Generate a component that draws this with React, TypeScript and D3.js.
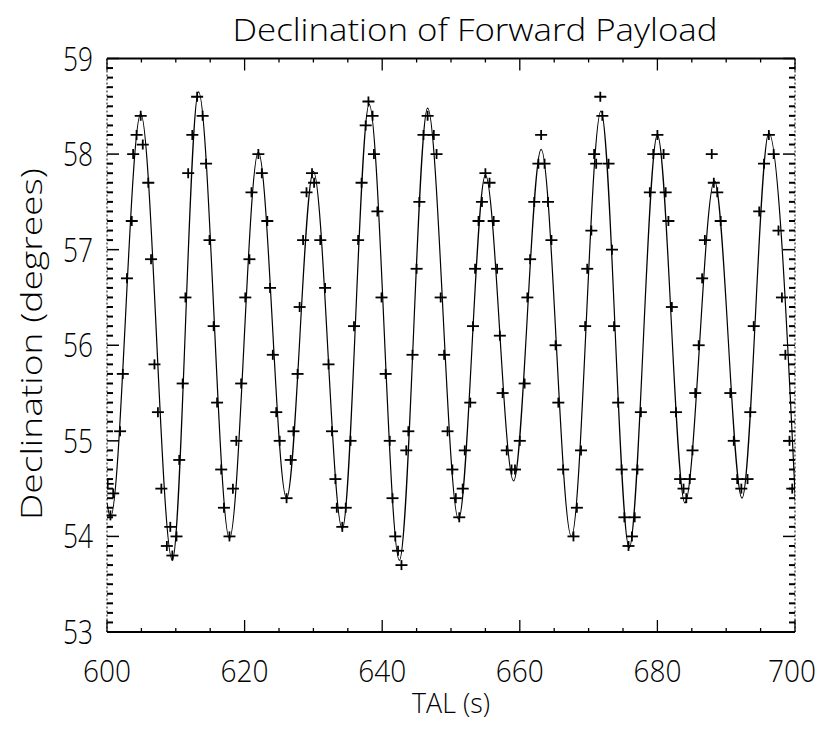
import React from "react";
import * as d3 from "d3";

// Time (s) and declination (degrees) of the fitted curve's turning points
const curveT = [600.0, 600.5, 604.9, 609.5, 613.3, 617.8, 622.0, 626.1, 630.0, 634.2, 638.1, 642.5, 646.6, 651.1, 655.0, 659.1, 663.1, 667.5, 671.8, 675.9, 680.0, 684.0, 688.3, 692.3, 696.2, 700.1];
const curveV = [54.35, 54.2, 58.42, 53.75, 58.65, 53.98, 58.02, 54.4, 57.82, 54.08, 58.52, 53.75, 58.48, 54.18, 57.78, 54.58, 58.05, 54.0, 58.45, 53.88, 58.2, 54.35, 57.72, 54.4, 58.22, 54.3];

// Measured samples (plus markers)
const sampleT = [600.1, 600.5, 600.9, 601.9, 602.3, 602.9, 603.6, 603.8, 604.3, 604.9, 605.2, 606.0, 606.4, 606.9, 607.4, 607.9, 608.7, 609.2, 609.5, 610.1, 610.5, 611.0, 611.4, 611.8, 612.4, 613.1, 613.9, 614.4, 614.9, 615.5, 616.0, 616.6, 617.0, 617.8, 618.3, 618.8, 619.5, 620.1, 620.7, 621.0, 622.0, 622.5, 623.3, 623.7, 624.1, 624.6, 625.1, 626.1, 626.7, 627.1, 627.7, 628.0, 628.5, 629.0, 629.8, 630.1, 631.0, 631.7, 632.2, 632.7, 633.2, 633.4, 634.2, 634.7, 635.4, 635.9, 636.5, 637.0, 637.6, 638.0, 638.6, 638.8, 639.3, 639.9, 640.5, 641.1, 641.5, 641.9, 642.3, 642.8, 643.5, 643.8, 644.4, 645.0, 645.4, 646.0, 646.6, 647.5, 647.9, 648.5, 649.0, 649.5, 650.2, 650.7, 651.2, 651.7, 652.0, 652.8, 653.2, 653.5, 654.0, 654.5, 655.0, 655.6, 656.2, 656.7, 657.1, 657.5, 658.1, 658.8, 659.3, 660.0, 660.7, 661.1, 661.5, 662.1, 662.7, 663.1, 663.6, 664.1, 664.6, 665.2, 665.6, 666.3, 667.8, 668.3, 668.9, 669.5, 669.8, 670.4, 670.8, 671.1, 671.7, 672.0, 672.9, 673.4, 673.7, 674.3, 674.8, 675.2, 675.8, 676.3, 676.7, 677.1, 677.6, 678.9, 679.4, 680.0, 680.9, 681.2, 681.6, 682.1, 682.7, 683.3, 683.8, 684.2, 684.7, 685.1, 685.5, 686.0, 686.5, 686.9, 687.9, 688.2, 688.7, 689.2, 690.6, 691.1, 691.6, 692.2, 693.1, 693.5, 694.0, 694.8, 695.5, 696.2, 696.9, 697.6, 698.1, 698.6, 699.2, 699.6];
const sampleV = [54.55, 54.22, 54.45, 55.1, 55.7, 56.7, 57.3, 58.0, 58.2, 58.4, 58.1, 57.7, 56.9, 55.8, 55.3, 54.5, 53.9, 54.1, 53.8, 54.0, 54.8, 55.6, 56.5, 57.8, 58.2, 58.6, 58.4, 57.9, 57.1, 56.2, 55.4, 54.7, 54.3, 54.0, 54.5, 55.0, 55.6, 56.5, 56.9, 57.6, 58.0, 57.8, 57.3, 56.6, 55.9, 55.3, 55.0, 54.4, 54.8, 55.1, 55.7, 56.4, 57.1, 57.6, 57.8, 57.7, 57.1, 56.6, 55.8, 55.1, 54.6, 54.3, 54.1, 54.3, 55.0, 56.2, 57.1, 57.7, 58.3, 58.55, 58.4, 58.0, 57.4, 56.5, 55.7, 55.0, 54.4, 54.0, 53.85, 53.7, 54.9, 55.1, 55.9, 56.8, 57.5, 58.2, 58.4, 58.2, 58.0, 56.5, 55.9, 55.1, 54.7, 54.4, 54.2, 54.5, 54.9, 55.4, 56.2, 56.8, 57.3, 57.5, 57.8, 57.7, 57.3, 56.8, 56.1, 55.5, 54.9, 54.7, 54.7, 55.0, 55.6, 56.5, 56.9, 57.5, 57.9, 58.2, 57.9, 57.5, 57.1, 56.0, 55.4, 54.7, 54.0, 54.3, 54.9, 56.2, 56.8, 57.2, 58.0, 57.9, 58.6, 58.4, 57.9, 57.0, 56.2, 55.4, 54.7, 54.2, 53.9, 54.0, 54.2, 54.7, 55.3, 57.6, 58.0, 58.2, 58.0, 57.6, 57.3, 56.4, 55.3, 54.6, 54.5, 54.4, 54.6, 54.9, 55.5, 56.0, 56.7, 57.1, 58.0, 57.7, 57.6, 57.3, 55.5, 55.0, 54.6, 54.5, 54.6, 55.3, 56.2, 57.4, 57.9, 58.2, 58.0, 57.2, 56.5, 55.9, 55.0, 54.5];

const xMajorTicks = [600, 620, 640, 660, 680, 700];
const yMajorTicks = [53, 54, 55, 56, 57, 58, 59];

const title = "Declination of Forward Payload";
const xTitle = "TAL (s)";
const yTitle = "Declination (degrees)";

const W = 824, H = 732;
const L = 107, R = 795, T = 58.5, B = 632;

export default function App() {
  const x = d3.scaleLinear().domain([600, 700]).range([L, R]);
  const y = d3.scaleLinear().domain([53, 59]).range([B, T]);

  const curvePts = curveT.map((t, i) => [t, curveV[i]] as [number, number]);
  const line = d3
    .line<[number, number]>()
    .x((d) => x(d[0]))
    .y((d) => y(d[1]))
    .curve(d3.curveMonotoneX);

  const xMinor = d3.range(600, 700.01, 5).filter((v) => v % 20 !== 0);
  const yMinor = d3.range(530, 591, 1).map((v) => v / 10).filter((v) => Math.abs(v - Math.round(v)) > 1e-6);

  const font = "'Open Sans', 'DejaVu Sans', sans-serif";
  const fw = 300;
  const tickLen = 12, minorLen = 6;

  return (
    <svg width={W} height={H} style={{ position: "absolute", left: 0, top: 0, background: "#fff" }} xmlns="http://www.w3.org/2000/svg">
      <rect width={W} height={H} fill="#fff" />
      <defs>
        <clipPath id="plot">
          <rect x={L} y={T} width={R - L} height={B - T} />
        </clipPath>
      </defs>

      {/* frame */}
      <line x1={L} x2={R} y1={T} y2={T} stroke="#000" strokeWidth={2.2} />
      <line x1={L} x2={R} y1={B} y2={B} stroke="#000" strokeWidth={2.2} />
      <line x1={L} x2={L} y1={T} y2={B} stroke="#000" strokeWidth={1} strokeDasharray="2,2" />
      <line x1={R} x2={R} y1={T} y2={B} stroke="#000" strokeWidth={1} strokeDasharray="2,2" />

      {/* x ticks */}
      {xMajorTicks.map((v) => (
        <g key={"xm" + v}>
          <line x1={x(v)} x2={x(v)} y1={B} y2={B - tickLen} stroke="#000" strokeWidth={1.3} />
          <line x1={x(v)} x2={x(v)} y1={T} y2={T + tickLen} stroke="#000" strokeWidth={1.3} />
          <text x={Math.min(x(v), 792)} y={682} fontFamily={font} fontWeight={fw} fontSize={32} textAnchor="middle" textLength={48} lengthAdjust="spacingAndGlyphs" fill="#000">
            {v}
          </text>
        </g>
      ))}
      {xMinor.map((v) => (
        <g key={"xn" + v}>
          <line x1={x(v)} x2={x(v)} y1={B} y2={B - 4} stroke="#000" strokeWidth={1.3} />
          <line x1={x(v)} x2={x(v)} y1={T} y2={T + 4} stroke="#000" strokeWidth={1.3} />
        </g>
      ))}

      {/* y ticks */}
      {yMajorTicks.map((v) => (
        <g key={"ym" + v}>
          <line x1={L} x2={L + tickLen} y1={y(v)} y2={y(v)} stroke="#000" strokeWidth={1.5} />
          <line x1={R} x2={R - tickLen} y1={y(v)} y2={y(v)} stroke="#000" strokeWidth={1.5} />
          <text x={93} y={y(v) + 12} fontFamily={font} fontWeight={fw} fontSize={33} textAnchor="end" textLength={30} lengthAdjust="spacingAndGlyphs" fill="#000">
            {v}
          </text>
        </g>
      ))}
      {yMinor.map((v) => (
        <g key={"yn" + v}>
          <line x1={L} x2={L + minorLen} y1={y(v)} y2={y(v)} stroke="#000" strokeWidth={2} />
          <line x1={R} x2={R - minorLen} y1={y(v)} y2={y(v)} stroke="#000" strokeWidth={2} />
        </g>
      ))}

      {/* data */}
      <g clipPath="url(#plot)">
        <path d={line(curvePts) || ""} fill="none" stroke="#000" strokeWidth={1.2} />
        {sampleT.map((t, i) => {
          const cx = x(t), cy = y(sampleV[i]);
          return (
            <g key={"p" + i} stroke="#000" strokeWidth={1.8}>
              <line x1={cx - 6} x2={cx + 6} y1={cy} y2={cy} />
              <line x1={cx} x2={cx} y1={cy - 5} y2={cy + 5} />
            </g>
          );
        })}
      </g>

      {/* titles */}
      <text x={475} y={41} fontFamily={font} fontWeight={fw} fontSize={31} textAnchor="middle" textLength={485} lengthAdjust="spacingAndGlyphs" fill="#000">
        {title}
      </text>
      <text x={451} y={713} fontFamily={font} fontWeight={fw} fontSize={28} textAnchor="middle" textLength={78} lengthAdjust="spacingAndGlyphs" fill="#000">
        {xTitle}
      </text>
      <text transform={`translate(42,344) rotate(-90)`} fontFamily={font} fontWeight={fw} fontSize={29} textAnchor="middle" textLength={352} lengthAdjust="spacingAndGlyphs" fill="#000">
        {yTitle}
      </text>
    </svg>
  );
}
